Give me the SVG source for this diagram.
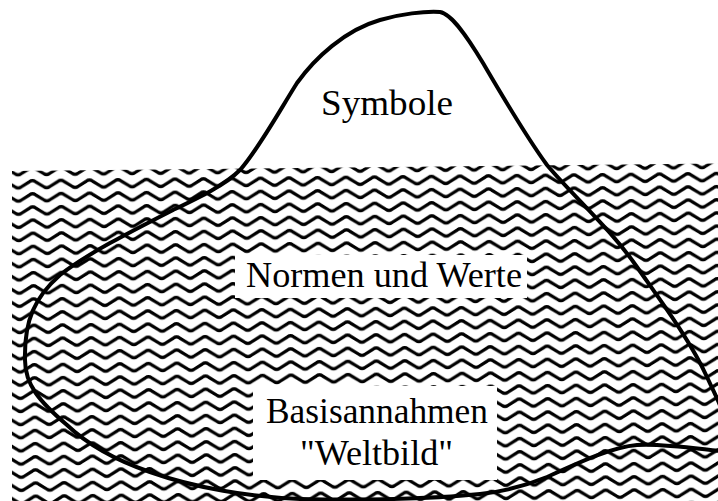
<svg xmlns="http://www.w3.org/2000/svg" width="718" height="501" viewBox="0 0 718 501">
  <style>
    .lbl { font-family: "Liberation Serif", "Times New Roman", serif; font-size: 35px; fill: #000; }
    .outline { fill: none; stroke: #000; stroke-width: 4; stroke-linecap: round; stroke-linejoin: round; }
    .wave { fill: none; stroke: #000; stroke-width: 3.2; stroke-linejoin: round; }
  </style>
  <defs>
    <pattern id="waves" patternUnits="userSpaceOnUse" width="28.5" height="13.15" patternTransform="translate(18,165) rotate(-0.6)">
      <path class="wave" d="M-3,8.8 Q0,11 3,8.8 L11.25,3.7 Q14.25,1.6 17.25,3.7 L25.5,8.8 Q28.5,11 31.5,8.8"/>
    </pattern>
  </defs>
  <rect x="0" y="0" width="718" height="501" fill="#fff"/>
  <g id="water">
    <path d="M12,171 L718,163.6 L718,501 L12,501 Z" fill="url(#waves)"/>
  </g>
  <g id="iceberg">
    <path class="outline" d="M720,451 C700,449 660,443 637,445 C612,447 580,462 547,477 C525,486 500,492 480,494 C420,500 350,500 300,499 C250,497 195,488 150,472 C115,460 88,445 67,425 C40,402 25,385 25,360 C24,320 35,297 60,275 C85,255 130,232 173,210 C200,197 225,185 240,170 C258,150 280,110 297,83 C315,58 345,30 380,20 C400,14 425,11 440,12 C452,14 468,38 483,63 C500,92 525,135 547,165 C572,195 610,228 637,267 C660,300 690,340 707,377 C713,390 718,400 722,410"/>
  </g>
  <g id="node-symbole">
    <text class="lbl" x="321" y="115" textLength="132" lengthAdjust="spacingAndGlyphs">Symbole</text>
  </g>
  <g id="node-normen">
    <rect x="235" y="255" width="292" height="43" fill="#fff"/>
    <text class="lbl" x="246" y="287" textLength="276" lengthAdjust="spacingAndGlyphs">Normen und Werte</text>
  </g>
  <g id="node-basis">
    <rect x="253" y="386" width="244" height="94" fill="#fff"/>
    <text class="lbl" x="266" y="423" textLength="222" lengthAdjust="spacingAndGlyphs">Basisannahmen</text>
    <text class="lbl" x="300" y="465" textLength="153" lengthAdjust="spacingAndGlyphs">"Weltbild"</text>
  </g>
</svg>
